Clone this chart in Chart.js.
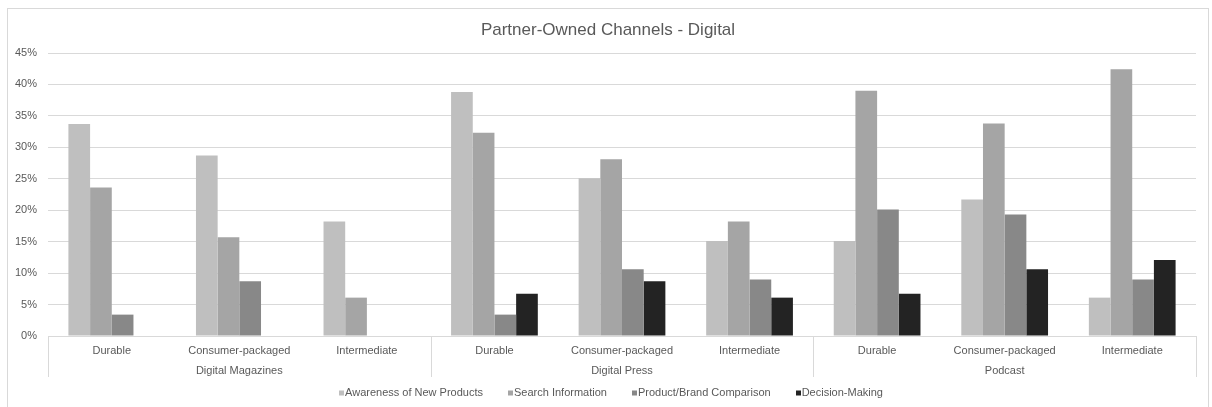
<!DOCTYPE html>
<html>
<head>
<meta charset="utf-8">
<title>Partner-Owned Channels - Digital</title>
<script src="https://cdn.jsdelivr.net/npm/chart.js@4.4.1/dist/chart.umd.min.js"></script>
<style>
  html, body { margin: 0; padding: 0; background: #ffffff; }
  body { width: 1212px; height: 407px; overflow: hidden; position: relative; }
  #frame { position: absolute; left: 7px; top: 8px; width: 1202px; height: 420px; border: 1px solid #d9d9d9; box-sizing: border-box; }
  #chart { position: absolute; left: 0; top: 0; }
</style>
</head>
<body>
<div id="frame"></div>
<canvas id="chart" width="1212" height="407"></canvas>
<script>
// Channel groups and the product types shown under each one
const groups = ['Digital Magazines', 'Digital Press', 'Podcast'];
const productTypes = ['Durable', 'Consumer-packaged', 'Intermediate'];
const categories = groups.flatMap(() => productTypes);

// Share of respondents (%) per purchase-journey stage
const seriesNames = ['Awareness of New Products', 'Search Information', 'Product/Brand Comparison', 'Decision-Making'];
const awareness  = [33.7, 28.7, 18.2, 38.8, 25.1, 15.1, 15.1, 21.7, 6.1];
const search     = [23.6, 15.7, 6.1, 32.3, 28.1, 18.2, 39.0, 33.8, 42.4];
const comparison = [3.4, 8.7, 0, 3.4, 10.6, 9.0, 20.1, 19.3, 9.0];
const decision   = [0, 0, 0, 6.7, 8.7, 6.1, 6.7, 10.6, 12.1];

const yTicks = [0, 5, 10, 15, 20, 25, 30, 35, 40, 45];

const seriesColors = ['#bfbfbf', '#a5a5a5', '#888888', '#232323'];
const TEXT = '#595959';
const GRID = '#d9d9d9';
const FONT = '"Liberation Sans", Arial, Helvetica, sans-serif';

// Title, group separators, group labels and legend
const decorations = {
  id: 'decorations',
  afterDraw(chart) {
    const { ctx, chartArea } = chart;
    const x = chart.scales.x;
    const n = categories.length;
    const step = (x.right - x.left) / n;
    const per = productTypes.length;

    ctx.save();
    // title
    ctx.fillStyle = TEXT;
    ctx.font = '17px ' + FONT;
    ctx.textAlign = 'center';
    ctx.textBaseline = 'middle';
    ctx.fillText('Partner-Owned Channels - Digital', 608, 30);

    // group separators below the axis
    ctx.strokeStyle = GRID;
    ctx.lineWidth = 1;
    for (let b = 0; b <= n; b += per) {
      const px = Math.round(x.getPixelForValue(Math.min(b, n - 1)) + (b === n ? step / 2 : -step / 2)) + 0.5;
      ctx.beginPath();
      ctx.moveTo(px, chartArea.bottom);
      ctx.lineTo(px, 377);
      ctx.stroke();
    }

    // group labels
    ctx.font = '11px ' + FONT;
    ctx.fillStyle = TEXT;
    groups.forEach((g, i) => {
      const mid = x.getPixelForValue(i * per + Math.floor(per / 2));
      ctx.fillText(g, mid, 370.5);
    });

    // legend
    const box = 5, gapText = 1, gapItem = 25;
    const widths = seriesNames.map(s => ctx.measureText(s).width);
    const total = widths.reduce((a, w) => a + box + gapText + w, 0) + gapItem * (seriesNames.length - 1);
    let lx = 611 - total / 2;
    const ly = 393;
    ctx.textAlign = 'left';
    seriesNames.forEach((s, i) => {
      ctx.fillStyle = seriesColors[i];
      ctx.fillRect(Math.round(lx), ly - 2.5, box, box);
      ctx.fillStyle = TEXT;
      ctx.fillText(s, lx + box + gapText, ly);
      lx += box + gapText + widths[i] + gapItem;
    });
    ctx.restore();
  }
};

const values = [awareness, search, comparison, decision];

new Chart(document.getElementById('chart'), {
  type: 'bar',
  data: {
    labels: categories,
    datasets: seriesNames.map((name, i) => ({
      label: name,
      data: values[i],
      backgroundColor: seriesColors[i],
      borderWidth: 0,
      barPercentage: 1,
      categoryPercentage: 0.68
    }))
  },
  options: {
    responsive: false,
    animation: false,
    events: [],
    layout: { padding: { top: 53, right: 16, bottom: 0, left: 0 } },
    plugins: {
      legend: { display: false },
      title: { display: false },
      tooltip: { enabled: false }
    },
    scales: {
      x: {
        grid: { display: false, drawTicks: false },
        border: { display: false },
        ticks: {
          autoSkip: false,
          maxRotation: 0,
          padding: 8,
          color: TEXT,
          font: { family: FONT, size: 11 }
        },
        afterFit(s) { s.height = 71; }
      },
      y: {
        min: 0,
        max: 45,
        afterBuildTicks(s) { s.ticks = yTicks.map(v => ({ value: v })); },
        grid: { color: GRID, lineWidth: 1, drawTicks: false },
        border: { display: false },
        ticks: {
          padding: 11,
          color: TEXT,
          font: { family: FONT, size: 11 },
          callback: v => v + '%'
        },
        afterFit(s) { s.width = 48; }
      }
    }
  },
  plugins: [decorations]
});
</script>
</body>
</html>
